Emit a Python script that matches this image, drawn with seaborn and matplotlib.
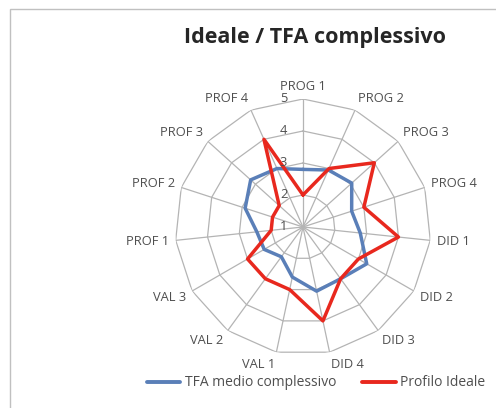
import numpy as np
import pandas as pd
import matplotlib
matplotlib.use('Agg')
import matplotlib.pyplot as plt
import seaborn as sns
from matplotlib.lines import Line2D
from matplotlib.patches import Rectangle

categories = ['PROG 1', 'PROG 2', 'PROG 3', 'PROG 4', 'DID 1', 'DID 2', 'DID 3', 'DID 4',
              'VAL 1', 'VAL 2', 'VAL 3', 'PROF 1', 'PROF 2', 'PROF 3', 'PROF 4']
tfa_medio = [2.8, 2.95, 3.05, 2.6, 2.8, 3.3, 3.0, 3.05, 2.6, 2.15, 2.4, 2.45, 2.9, 3.2, 3.0]
profilo_ideale = [2, 3, 4, 3, 4, 3, 3, 4, 3, 3, 3, 2, 2, 2, 4]
r_ticks = [1, 2, 3, 4, 5]
series_names = ['TFA medio complessivo', 'Profilo Ideale']
colors = {'TFA medio complessivo': '#5a7fb8', 'Profilo Ideale': '#e8281e'}

sns.set_theme(style='white')
plt.rcParams['font.family'] = ['Open Sans', 'DejaVu Sans']
text_grey = '#4f4f4f'
grid_grey = '#b4b4b4'

fig = plt.figure(figsize=(4.96, 4.08), dpi=100)
ax = fig.add_axes([0.3528, 0.1299, 0.5161, 0.6275], projection='polar')
ax.set_theta_zero_location('N')
ax.set_theta_direction(-1)

n = len(categories)
angles = np.linspace(0, 2 * np.pi, n, endpoint=False)
closed = np.append(angles, 2 * np.pi)

# polygon grid like excel
for t in r_ticks[1:]:
    ax.plot(closed, [t] * (n + 1), color=grid_grey, lw=0.9, zorder=1)
for a in angles:
    ax.plot([a, a], [r_ticks[0], r_ticks[-1]], color=grid_grey, lw=0.9, zorder=1)

df = pd.DataFrame({
    'angle': np.tile(closed, 2),
    'value': tfa_medio + [tfa_medio[0]] + profilo_ideale + [profilo_ideale[0]],
    'serie': [series_names[0]] * (n + 1) + [series_names[1]] * (n + 1),
})
sns.lineplot(data=df, x='angle', y='value', hue='serie', palette=colors, sort=False,
             estimator=None, lw=2.5, ax=ax, legend=False, zorder=3)

ax.set_xlim(0, 2 * np.pi)
ax.set_ylim(r_ticks[0], r_ticks[-1])
ax.grid(False)
ax.spines['polar'].set_visible(False)
ax.set_xticks([])
ax.set_yticks([])
ax.set_xlabel('')
ax.set_ylabel('')
ax.set_facecolor('none')

for a, lab in zip(angles, categories):
    s, c = np.sin(a), np.cos(a)
    ha = 'left' if s > 0.15 else ('right' if s < -0.15 else 'center')
    ax.annotate(lab, xy=(a, r_ticks[-1]), xytext=(s * 5, c * 9), textcoords='offset points',
                ha=ha, va='center', fontsize=9.3, color=text_grey, annotation_clip=False)

for t in r_ticks:
    ax.annotate(str(t), xy=(0, t), xytext=(-14, 0), textcoords='offset points',
                ha='center', va='center', fontsize=9.3, color=text_grey, annotation_clip=False)

fig.text(315 / 496, 1 - 38 / 408, 'Ideale / TFA complessivo', ha='center', va='center',
         fontsize=15.5, fontweight='bold', color='#262626')

handles = [Line2D([], [], color=colors[s], lw=2.8) for s in series_names]
fig.legend(handles, series_names, loc='center', bbox_to_anchor=(316 / 496, 1 - 383 / 408),
           ncol=2, frameon=False, fontsize=10, labelcolor=text_grey, handlelength=2.4,
           handletextpad=0.3, columnspacing=1.9)

fig.patches.append(Rectangle((10 / 496, -0.1), 1.2, 1 - 9 / 408 + 0.1, transform=fig.transFigure,
                             fill=False, edgecolor='#c0c0c0', lw=1))

fig.savefig('out.png', dpi=100)
